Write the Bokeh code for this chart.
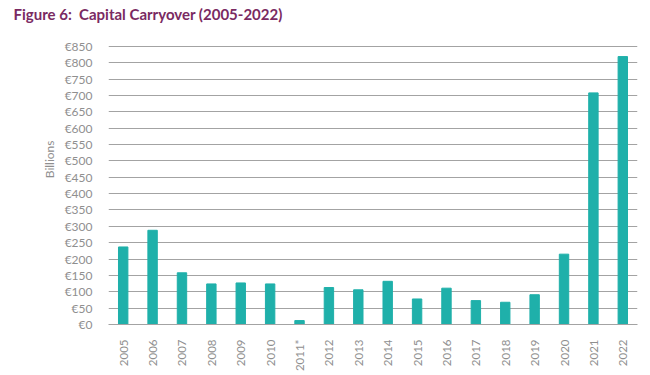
import math
from bokeh.plotting import figure
from bokeh.models import FixedTicker, PrintfTickFormatter, Range1d, Title
from bokeh.embed import file_html
from bokeh.resources import INLINE

years = ["2005", "2006", "2007", "2008", "2009", "2010", "2011*", "2012", "2013",
         "2014", "2015", "2016", "2017", "2018", "2019", "2020", "2021", "2022"]
carryover = [237, 288, 158, 124, 127, 124, 12, 113, 106,
             132, 78, 111, 73, 68, 91, 215, 708, 819]
y_ticks = list(range(0, 851, 50))

FONT = "Lato"
GREY = "#8f8f8f"

p = figure(x_range=years, width=650, height=375, output_backend="svg",
           toolbar_location=None, min_border_left=108, min_border_right=13,
           min_border_top=42, min_border_bottom=51)
p.y_range = Range1d(0, 862)

p.vbar(x=years, top=carryover, width=0.32, color="#1fb0aa")

# spacer between the frame and the main title
spacer = Title(text=" ", text_font_size="1px", standoff=11)
p.add_layout(spacer, "above")

p.title.text = "Figure 6:\u00a0 Capital Carryover (2005-2022)"
p.title.text_color = "#7a2a62"
p.title.text_font = FONT
p.title.text_font_size = "15px"
p.title.text_font_style = "bold"
p.title.align = "left"
p.title.vertical_align = "top"
p.title.offset = -95
p.title.standoff = 8

ylab = Title(text="Billions", align="right", offset=98, text_color=GREY,
             text_font=FONT, text_font_size="12px", text_font_style="normal")
p.add_layout(ylab, "left")

p.outline_line_color = None
p.background_fill_color = "white"
p.border_fill_color = "white"

p.xgrid.grid_line_color = None
p.ygrid.grid_line_color = "#a3a3a3"
p.ygrid.grid_line_width = 1.2
p.ygrid.ticker = FixedTicker(ticks=y_ticks)

p.yaxis.ticker = FixedTicker(ticks=y_ticks)
p.yaxis.formatter = PrintfTickFormatter(format="€%d")
p.yaxis.axis_line_color = None
p.yaxis.major_tick_line_color = None
p.yaxis.minor_tick_line_color = None
p.yaxis.major_label_standoff = 10
p.yaxis.major_label_text_color = GREY
p.yaxis.major_label_text_font = FONT
p.yaxis.major_label_text_font_size = "12px"

p.xaxis.axis_line_color = "#a3a3a3"
p.xaxis.axis_line_width = 1.2
p.xaxis.major_tick_line_color = None
p.xaxis.minor_tick_line_color = None
p.xaxis.major_label_orientation = math.pi / 2
p.xaxis.major_label_standoff = 9
p.xaxis.major_label_text_color = GREY
p.xaxis.major_label_text_font = FONT
p.xaxis.major_label_text_font_size = "11.5px"

open("out.html", "w").write(file_html(p, INLINE))
